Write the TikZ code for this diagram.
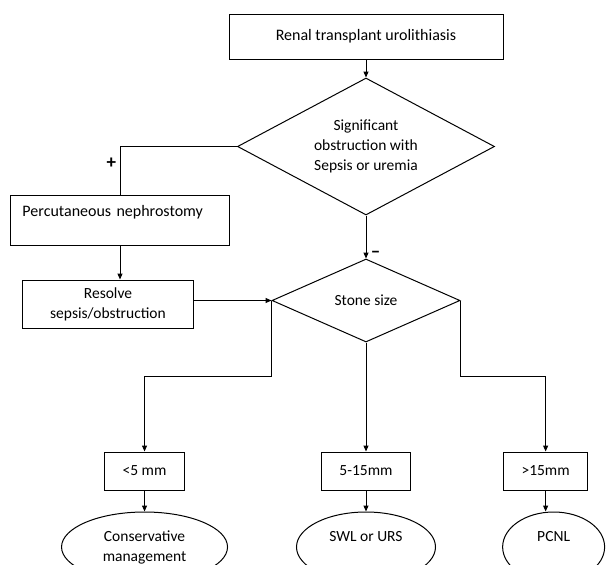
\documentclass[tikz,border=0pt]{standalone}
\usepackage{fontspec}
\setmainfont{Carlito}
\usepackage{tikz}
\usetikzlibrary{positioning}
\usetikzlibrary{calc,shapes.geometric,arrows.meta}

\begin{document}
\begin{tikzpicture}[
Bnode/.style={rectangle, draw=black, line width=1pt, inner sep=0pt, font=\fontsize{16}{20}\selectfont},
Dnode/.style={diamond, draw=black, line width=1pt, inner sep=0pt, align=center, font=\fontsize{15.5}{20}\selectfont},
Snode/.style={rectangle, draw=black, line width=1pt, inner xsep=18pt, inner ysep=0pt, minimum height=38pt, font=\fontsize{15.5}{20}\selectfont},
Enode/.style={ellipse, draw=black, line width=1pt, inner sep=0pt, minimum height=70pt, align=center, font=\fontsize{15.5}{20}\selectfont},
Aline/.style={line width=1pt, -{Triangle[length=6pt,width=5pt]}}
]
\useasboundingbox (0pt,0pt) rectangle (606pt,-565pt);
%Nodes
\node[Bnode][minimum width=274pt, minimum height=45pt] (Top) at (366pt,-36.5pt) {Renal transplant urolithiasis};
\node[Dnode][aspect=1.876, minimum width=257pt, minimum height=137pt] (Obs) [below=18pt of Top] {Significant\\obstruction with\\Sepsis or uremia};
\node[Bnode][text width=195pt, align=left, inner xsep=12pt, text height=21.5pt, text depth=28.5pt] (Neph) [below left=48pt and 7pt of Obs.west] {Percutaneous nephrostomy};
\node[Bnode][minimum width=171pt, minimum height=48pt, align=center, font=\fontsize{15.5}{20}\selectfont] (Res) [below=34pt of Neph, xshift=-12pt] {Resolve\\sepsis/obstruction};
\node[Dnode][aspect=2.27, minimum width=188pt, minimum height=83pt] (Size) [below=43pt of Obs] {Stone size};
\node[Snode] (S2) [below=109pt of Size] {5-15mm};
\node[Snode] (S1) [left=136pt of S2] {<5 mm};
\node[Snode] (S3) [right=92pt of S2] {>15mm};
\node[Enode][minimum width=166pt] (T1) [below=21pt of S1] {Conservative\\management};
\node[Enode][minimum width=139pt, text height=11pt, text depth=23pt] (T2) [below=21pt of S2] {SWL or URS};
\node[Enode][minimum width=102pt, text height=11pt, text depth=23pt] (T3) [below=21pt of S3, xshift=8pt] {PCNL};
%Lines
\draw[Aline] (Top.south) -- (Obs.north);
\draw[line width=1pt] (Obs.west) -| (Neph.north) node[pos=0.67, left, font=\fontsize{19}{20}\selectfont\bfseries] {+};
\draw[Aline] (Obs.south) -- (Size.north) node[pos=0.9, right, xshift=1pt, font=\fontsize{19}{20}\selectfont\bfseries] {\textendash};
\draw[Aline] (Neph.south) -- (Neph.south |- Res.north);
\draw[Aline] (Res.east |- Size.west) -- (Size.west);
\draw[Aline] (Size.west) -- ++(0,-76pt) -| (S1.north);
\draw[Aline] (Size.south) -- (S2.north);
\draw[Aline] (Size.east) -- ++(0,-76pt) -| (S3.north);
\draw[Aline] (S1.south) -- (T1.north);
\draw[Aline] (S2.south) -- (T2.north);
\draw[Aline] (S3.south) -- (S3.south |- T3.north);
\end{tikzpicture}
\end{document}
